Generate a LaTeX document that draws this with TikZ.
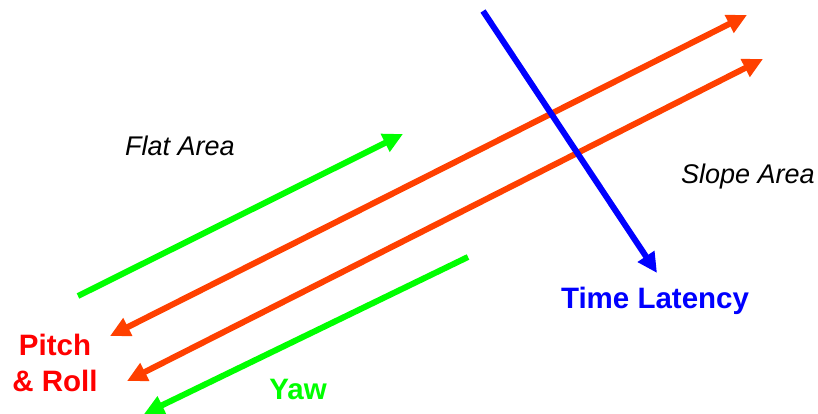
\documentclass[tikz,border=0pt]{standalone}
\usepackage{fontspec}
\setmainfont{Liberation Sans}
\usepackage{tikz}
\usetikzlibrary{arrows.meta}
\definecolor{axRed}{HTML}{FF4000}
\definecolor{lbRed}{HTML}{FF0000}
\definecolor{axGreen}{HTML}{00FF00}
\definecolor{axBlue}{HTML}{0000FF}

\begin{document}
\begin{tikzpicture}[
  x=1pt, y=-1pt,
  area/.style={font=\fontsize{27}{30}\selectfont\itshape, text=black, inner sep=0pt},
  lbl/.style={font=\fontsize{29.5}{36}\selectfont\bfseries, inner sep=0pt, align=center},
  axis/.style={line width=6pt, -{Triangle[length=20pt,width=19pt]}},
  both/.style={line width=6pt, {Triangle[length=20pt,width=19pt]}-{Triangle[length=20pt,width=19pt]}}
]
  \useasboundingbox (0,0) rectangle (818,414);

  \coordinate (flatS) at (78,296);
  \coordinate (flatE) at (403,134);
  \coordinate (rollA) at (110,336);
  \coordinate (rollB) at (747,15);
  \coordinate (pitchA) at (127,381);
  \coordinate (pitchB) at (763,59);
  \coordinate (yawS) at (468,257);
  \coordinate (yawE) at (144,414);
  \coordinate (latS) at (483,11);
  \coordinate (latE) at (657,273);

  \node[area] (flat) at (180,146) {Flat Area};
  \node[area] (slope) at (748,177) {Slope Area};
  \node[lbl, text=axBlue] (latency) at (655,301) {Time Latency};
  \node[lbl, text=lbRed] (pitch) at (55,363) {Pitch\\\& Roll};
  \node[lbl, text=axGreen] (yaw) at (298,389) {Yaw};

  \draw[axis, axGreen] (flatS) -- (flatE);
  \draw[both, axRed] (rollA) -- (rollB);
  \draw[both, axRed] (pitchA) -- (pitchB);
  \draw[axis, axGreen] (yawS) -- (yawE);
  \draw[axis, axBlue] (latS) -- (latE);
\end{tikzpicture}
\end{document}
